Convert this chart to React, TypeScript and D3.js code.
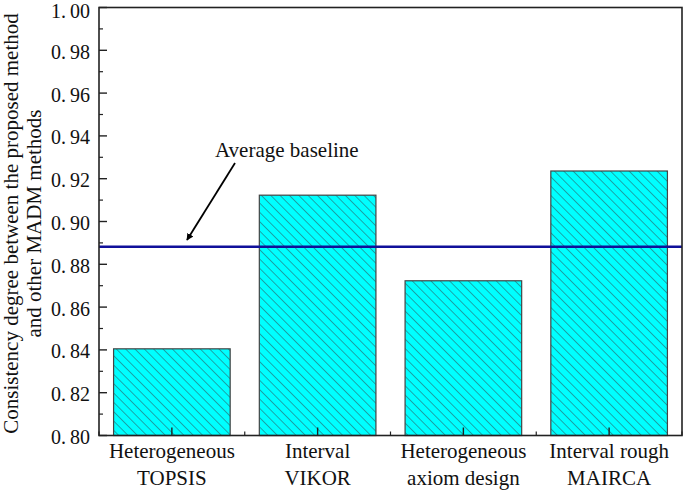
import React from "react";
import * as d3 from "d3";

const categories = [
  ["Heterogeneous", "TOPSIS"],
  ["Interval", "VIKOR"],
  ["Heterogeneous", "axiom design"],
  ["Interval rough", "MAIRCA"],
];
const values = [0.8405, 0.9123, 0.8723, 0.9236];
const baselineValue = 0.8882;
const yTicks = [0.8, 0.82, 0.84, 0.86, 0.88, 0.9, 0.92, 0.94, 0.96, 0.98, 1.0];
const yMinor = [0.81, 0.83, 0.85, 0.87, 0.89, 0.91, 0.93, 0.95, 0.97, 0.99];
const yTitle = ["Consistency degree between the proposed method", "and other MADM methods"];
const annotation = "Average baseline";

const W = 685;
const H = 492;
const m = { left: 99, right: 682, top: 7.5, bottom: 435.5 };
const FONT = "'Liberation Serif', 'Times New Roman', serif";

export default function App() {
  const x = d3
    .scaleBand<number>()
    .domain(d3.range(values.length))
    .range([m.left, m.right])
    .paddingInner(0.2)
    .paddingOuter(0.1);
  const y = d3.scaleLinear().domain([0.8, 1.0]).range([m.bottom, m.top]);
  const step = x.step();
  const xMinor = d3.range(values.length + 1).map((i) => m.left + step * i);

  const fmt = (v: number) => v.toFixed(2);
  const ts = { fontFamily: FONT, fontSize: "21px", fill: "#111" } as React.CSSProperties;
  const tickStyle = { fontFamily: FONT, fontSize: "20px", fill: "#111" } as React.CSSProperties;

  return (
    <svg
      width={W}
      height={H}
      style={{ position: "absolute", left: 0, top: 0, background: "#fff", fontFamily: FONT }}
    >
      <defs>
        <pattern
          id="hatch"
          patternUnits="userSpaceOnUse"
          width={6.6}
          height={6.6}
          patternTransform="rotate(-45)"
        >
          <rect width={6.6} height={6.6} fill="#00ffff" />
          <line x1={0} y1={0} x2={0} y2={6.6} stroke="#2b5f66" strokeWidth={1.1} />
        </pattern>
        <marker
          id="arrow"
          viewBox="0 0 10 10"
          refX={9}
          refY={5}
          markerWidth={7}
          markerHeight={7}
          markerUnits="userSpaceOnUse"
          orient="auto"
        >
          <path d="M0,0 L10,5 L0,10 z" fill="#000" />
        </marker>
      </defs>

      {/* bars */}
      {values.map((v, i) => (
        <rect
          key={i}
          x={x(i)}
          y={y(v)}
          width={x.bandwidth()}
          height={y(0.8) - y(v)}
          fill="url(#hatch)"
          stroke="#444"
          strokeWidth={1.2}
        />
      ))}

      {/* baseline */}
      <line
        x1={m.left}
        x2={m.right}
        y1={y(baselineValue)}
        y2={y(baselineValue)}
        stroke="#10109a"
        strokeWidth={2.4}
      />

      {/* frame */}
      <rect
        x={m.left}
        y={m.top}
        width={m.right - m.left}
        height={m.bottom - m.top}
        fill="none"
        stroke="#222"
        strokeWidth={1.6}
      />

      {/* y ticks */}
      {yTicks.map((t) => (
        <g key={"yt" + t}>
          <line x1={m.left} x2={m.left + 8} y1={y(t)} y2={y(t)} stroke="#222" strokeWidth={1.4} />
          <text x={90} y={Math.max(y(t), 9.6)} dy="0.42em" textAnchor="end" style={tickStyle}>
            {fmt(t).slice(0, 2)}
            <tspan dx={4}>{fmt(t).slice(2)}</tspan>
          </text>
        </g>
      ))}
      {yMinor.map((t) => (
        <line key={"ym" + t} x1={m.left} x2={m.left + 4} y1={y(t)} y2={y(t)} stroke="#222" strokeWidth={1.2} />
      ))}

      {/* x ticks */}
      {values.map((_, i) => (
        <line
          key={"xt" + i}
          x1={(x(i) as number) + x.bandwidth() / 2}
          x2={(x(i) as number) + x.bandwidth() / 2}
          y1={m.bottom}
          y2={m.bottom - 8}
          stroke="#222"
          strokeWidth={1.4}
        />
      ))}
      {xMinor.map((p, i) => (
        <line key={"xm" + i} x1={p} x2={p} y1={m.bottom} y2={m.bottom - 4} stroke="#222" strokeWidth={1.2} />
      ))}

      {/* x labels */}
      {categories.map((c, i) => {
        const cx = (x(i) as number) + x.bandwidth() / 2;
        return (
          <text key={"xl" + i} textAnchor="middle" style={ts}>
            <tspan x={cx} y={458}>{c[0]}</tspan>
            <tspan x={cx} y={485}>{c[1]}</tspan>
          </text>
        );
      })}

      {/* y title */}
      <text transform={`translate(0,${(m.top + m.bottom) / 2 + 2}) rotate(-90)`} textAnchor="middle" style={ts}>
        <tspan x={0} y={18}>{yTitle[0]}</tspan>
        <tspan x={0} y={41}>{yTitle[1]}</tspan>
      </text>

      {/* annotation */}
      <text x={215} y={157} style={ts}>{annotation}</text>
      <line x1={235} y1={163} x2={187} y2={240} stroke="#000" strokeWidth={1.8} markerEnd="url(#arrow)" />
    </svg>
  );
}
